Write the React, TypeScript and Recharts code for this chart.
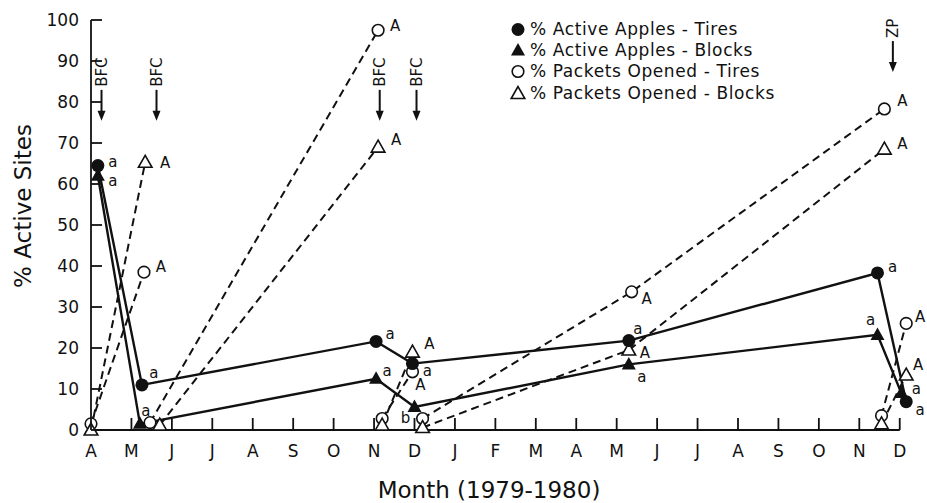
import React from 'react';
import { LineChart, Line, XAxis, YAxis, ReferenceDot, ReferenceLine, Legend } from 'recharts';

// ---------- data ----------
const MONTH_LABELS = ['A', 'M', 'J', 'J', 'A', 'S', 'O', 'N', 'D', 'J', 'F', 'M', 'A', 'M', 'J', 'J', 'A', 'S', 'O', 'N', 'D'];
const MONTH_TICKS = MONTH_LABELS.map((_, i) => i);
const Y_TICKS = [0, 10, 20, 30, 40, 50, 60, 70, 80, 90, 100];

type Pt = { m: number; v: number | null; tag?: string };

// m = months since April 1979, v = percent
const activeApplesTires: Pt[] = [
  { m: 0.17, v: 64.5, tag: 'a' },
  { m: 1.26, v: 11, tag: 'a' },
  { m: 7.05, v: 21.6, tag: 'a' },
  { m: 7.95, v: 16.2, tag: 'a' },
  { m: 13.3, v: 21.8, tag: 'a' },
  { m: 19.45, v: 38.3, tag: 'a' },
  { m: 20.16, v: 6.9, tag: 'a' },
];

const activeApplesBlocks: Pt[] = [
  { m: 0.17, v: 62, tag: 'a' },
  { m: 1.21, v: 1.5, tag: 'a' },
  { m: 7.05, v: 12.5, tag: 'a' },
  { m: 8.0, v: 5.6, tag: 'b' },
  { m: 13.3, v: 16, tag: 'a' },
  { m: 19.45, v: 23.2, tag: 'a' },
  { m: 20.04, v: 9, tag: 'a' },
];

const packetsOpenedTires: Pt[] = [
  { m: 0, v: 1.5 },
  { m: 1.31, v: 38.5, tag: 'A' },
  { m: 1.38, v: null },
  { m: 1.46, v: 1.8 },
  { m: 7.1, v: 97.5, tag: 'A' },
  { m: 7.12, v: null },
  { m: 7.2, v: 2.8 },
  { m: 7.95, v: 14.2, tag: 'A' },
  { m: 8.1, v: null },
  { m: 8.2, v: 2.8 },
  { m: 13.37, v: 33.7, tag: 'A' },
  { m: 19.62, v: 78.3, tag: 'A' },
  { m: 19.6, v: null },
  { m: 19.55, v: 3.5 },
  { m: 20.16, v: 26, tag: 'A' },
];

const packetsOpenedBlocks: Pt[] = [
  { m: 0, v: 0 },
  { m: 1.34, v: 65.3, tag: 'A' },
  { m: 1.5, v: null },
  { m: 1.7, v: 1.2 },
  { m: 7.1, v: 69, tag: 'A' },
  { m: 7.12, v: null },
  { m: 7.2, v: 1.2 },
  { m: 7.95, v: 19, tag: 'A' },
  { m: 8.1, v: null },
  { m: 8.2, v: 0.6 },
  { m: 13.3, v: 19.5, tag: 'A' },
  { m: 19.62, v: 68.5, tag: 'A' },
  { m: 19.6, v: null },
  { m: 19.55, v: 1.5 },
  { m: 20.16, v: 13.4, tag: 'A' },
];

const SERIES_NAMES = [
  '% Active Apples - Tires',
  '% Active Apples - Blocks',
  '% Packets Opened - Tires',
  '% Packets Opened - Blocks',
];

const EVENT_MONTHS = [0.26, 1.62, 7.14, 8.05, 19.83];
const EVENT_LABELS = ['BFC', 'BFC', 'BFC', 'BFC', 'ZP'];

// ---------- styling ----------
const FONT = '"DejaVu Sans", sans-serif';
const INK = '#111';

// label offsets (px) per data index
const OFF_AT: ([number, number] | null)[] = [[15, -4], [12, -12], [14, -8], [15, 7], [9, -12], [15, -6], [14, 8]];
const OFF_AB: ([number, number] | null)[] = [[15, 5], [6, -13], [11, -8], [-9, 11], [13, 12], [-7, -15], [15, -4]];
const OFF_PT: ([number, number] | null)[] = [null, [17, -5], null, null, [17, -5], null, null, [8, 13], null, null, [15, 7], [18, -8], null, null, [14, -7]];
const OFF_PB: ([number, number] | null)[] = [null, [20, 0], null, null, [18, -7], null, null, [17, -8], null, null, [16, 3], [18, -5], null, null, [12, -10]];

const ARROW_TIP: Record<string, number> = { BFC: 75.4, ZP: 87.3 };

type Kind = 'fc' | 'ft' | 'oc' | 'ot';
const SERIES_KINDS: Kind[] = ['fc', 'ft', 'oc', 'ot'];

function marker(kind: Kind, cx: number, cy: number) {
  switch (kind) {
    case 'fc':
      return <circle cx={cx} cy={cy} r={6.5} fill={INK} />;
    case 'ft':
      return <polygon points={`${cx},${cy - 7.5} ${cx - 7},${cy + 5} ${cx + 7},${cy + 5}`} fill={INK} />;
    case 'oc':
      return <circle cx={cx} cy={cy} r={5.8} fill="#fff" stroke={INK} strokeWidth={1.6} />;
    case 'ot':
    default:
      return (
        <polygon
          points={`${cx},${cy - 7} ${cx - 6.8},${cy + 5} ${cx + 6.8},${cy + 5}`}
          fill="#fff"
          stroke={INK}
          strokeWidth={1.6}
          strokeLinejoin="miter"
        />
      );
  }
}

function makeDot(kind: Kind, offsets: ([number, number] | null)[]) {
  return (props: any) => {
    const { cx, cy, index, payload } = props;
    if (cx == null || cy == null || !payload || payload.v == null || isNaN(cx) || isNaN(cy)) {
      return <g key={`e-${kind}-${index}`} />;
    }
    const off = offsets[index];
    return (
      <g key={`d-${kind}-${index}`}>
        {marker(kind, cx, cy)}
        {payload.tag && off ? (
          <text
            x={cx + off[0]}
            y={cy + off[1]}
            dy="0.35em"
            textAnchor="middle"
            fontSize={15}
            fontFamily={FONT}
            fill={INK}
          >
            {payload.tag}
          </text>
        ) : null}
      </g>
    );
  };
}

const XTick = (props: any) => {
  const { x, y, payload } = props;
  return (
    <g>
      <line x1={x} y1={y} x2={x} y2={y - 12} stroke={INK} strokeWidth={1.8} />
      <text x={x} y={y + 27} textAnchor="middle" fontSize={17} fontFamily={FONT} fill={INK}>
        {MONTH_LABELS[payload.value]}
      </text>
    </g>
  );
};

const YTick = (props: any) => {
  const { x, y, payload } = props;
  return (
    <g>
      <line x1={x} y1={y} x2={x + 11} y2={y} stroke={INK} strokeWidth={1.8} />
      <text x={x - 12} y={y} dy="0.36em" textAnchor="end" fontSize={17} fontFamily={FONT} fill={INK}>
        {payload.value}
      </text>
    </g>
  );
};

const Arrow = (props: any) => {
  const { cx, cy, text } = props;
  if (cx == null || cy == null) return <g />;
  const top = cy - 31;
  return (
    <g>
      <line x1={cx} y1={top} x2={cx} y2={cy - 8} stroke={INK} strokeWidth={2} />
      <polygon points={`${cx - 4},${cy - 10} ${cx + 4},${cy - 10} ${cx},${cy}`} fill={INK} />
      <text
        x={cx}
        y={top - 3}
        transform={`rotate(-90 ${cx} ${top - 3})`}
        textAnchor="start"
        dy="0.36em"
        fontSize={15}
        fontFamily={FONT}
        fill={INK}
      >
        {text}
      </text>
    </g>
  );
};

const LegendBox = () => (
  <div style={{ fontFamily: FONT, fontSize: 17, letterSpacing: 0.6, color: INK }}>
    {SERIES_NAMES.map((name, i) => (
      <div key={name} style={{ display: 'flex', alignItems: 'center', height: 21.3 }}>
        <svg width={16} height={18} style={{ overflow: 'visible' }}>
          {marker(SERIES_KINDS[i], 8, 9.5)}
        </svg>
        <span style={{ marginLeft: 4, whiteSpace: 'pre' }}>{name}</span>
      </div>
    ))}
  </div>
);

export default function App() {
  return (
    <div style={{ position: 'absolute', left: 0, top: 0, width: 927, height: 503, background: '#fff' }}>
      <LineChart width={927} height={503} margin={{ top: 20, right: 3, left: 31, bottom: 13 }}>
        <XAxis
          type="number"
          dataKey="m"
          domain={[0, 20.6]}
          ticks={MONTH_TICKS}
          interval={0}
          tickSize={0}
          tickMargin={0}
          axisLine={false}
          tick={(p: any) => <XTick {...p} />}
          height={60}
          label={{
            content: (p: any) => {
              const vb = p.viewBox || { x: 91, y: 430 };
              return (
                <text x={vb.x + 398} y={vb.y + 68} textAnchor="middle" fontSize={23} fontFamily={FONT} fill={INK}>
                  Month (1979-1980)
                </text>
              );
            },
          }}
        />
        <YAxis
          type="number"
          dataKey="v"
          domain={[0, 100]}
          ticks={Y_TICKS}
          interval={0}
          tickSize={0}
          tickMargin={0}
          axisLine={{ stroke: INK, strokeWidth: 1.8 }}
          tick={(p: any) => <YTick {...p} />}
          width={60}
          label={{
            content: (p: any) => {
              const vb = p.viewBox || { x: 31, y: 20, height: 410 };
              const cx = vb.x - 8;
              const cy = vb.y + vb.height / 2 - 19;
              return (
                <text
                  x={cx}
                  y={cy}
                  transform={`rotate(-90 ${cx} ${cy})`}
                  textAnchor="middle"
                  dy="0.36em"
                  fontSize={23}
                  fontFamily={FONT}
                  fill={INK}
                >
                  % Active Sites
                </text>
              );
            },
          }}
        />
        <ReferenceLine
          segment={[{ x: 0, y: 0 }, { x: 20, y: 0 }]}
          stroke={INK}
          strokeWidth={2}
          ifOverflow="visible"
        />
        <Line
          name={SERIES_NAMES[2]}
          data={packetsOpenedTires}
          dataKey="v"
          stroke={INK}
          strokeWidth={2}
          strokeDasharray="8 5"
          connectNulls={false}
          dot={makeDot('oc', OFF_PT)}
          activeDot={false}
          isAnimationActive={false}
        />
        <Line
          name={SERIES_NAMES[3]}
          data={packetsOpenedBlocks}
          dataKey="v"
          stroke={INK}
          strokeWidth={2}
          strokeDasharray="8 5"
          connectNulls={false}
          dot={makeDot('ot', OFF_PB)}
          activeDot={false}
          isAnimationActive={false}
        />
        <Line
          name={SERIES_NAMES[1]}
          data={activeApplesBlocks}
          dataKey="v"
          stroke={INK}
          strokeWidth={2.4}
          dot={makeDot('ft', OFF_AB)}
          activeDot={false}
          isAnimationActive={false}
        />
        <Line
          name={SERIES_NAMES[0]}
          data={activeApplesTires}
          dataKey="v"
          stroke={INK}
          strokeWidth={2.4}
          dot={makeDot('fc', OFF_AT)}
          activeDot={false}
          isAnimationActive={false}
        />
        {EVENT_MONTHS.map((m, i) => (
          <ReferenceDot
            key={`ev-${i}`}
            x={m}
            y={ARROW_TIP[EVENT_LABELS[i]]}
            r={0}
            ifOverflow="visible"
            shape={(p: any) => <Arrow {...p} text={EVENT_LABELS[i]} />}
          />
        ))}
        <Legend
          layout="vertical"
          align="center"
          verticalAlign="middle"
          content={() => <LegendBox />}
          wrapperStyle={{ left: 510, top: 18, width: 320, right: 'auto', bottom: 'auto' }}
        />
      </LineChart>
    </div>
  );
}
